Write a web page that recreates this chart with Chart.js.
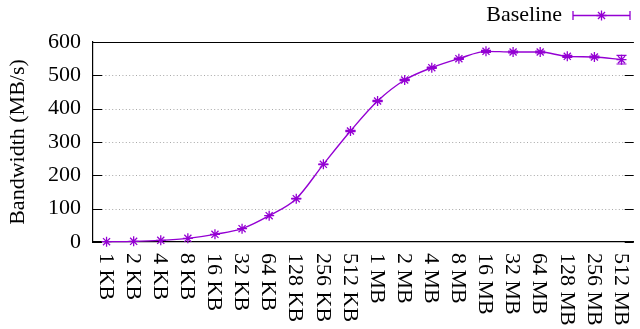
<!DOCTYPE html>
<html>
<head>
<meta charset="utf-8">
<script src="https://cdn.jsdelivr.net/npm/chart.js@4/dist/chart.umd.min.js"></script>
<style>
  html, body { margin: 0; padding: 0; background: #ffffff; }
  #wrap { width: 640px; height: 329px; }
</style>
</head>
<body>
<div id="wrap"><canvas id="c" width="640" height="329"></canvas></div>
<script>
// Transfer sizes along the x axis
const sizes = ['1 KB', '2 KB', '4 KB', '8 KB', '16 KB', '32 KB', '64 KB', '128 KB', '256 KB', '512 KB',
               '1 MB', '2 MB', '4 MB', '8 MB', '16 MB', '32 MB', '64 MB', '128 MB', '256 MB', '512 MB'];
// Measured bandwidth (MB/s) and its error half-range
const bandwidth = [1, 2, 5, 11, 23, 40, 79, 130, 233, 333,
                   423, 486, 523, 550, 572, 570, 570, 557, 555, 547];
const bandwidthErr = [0, 0, 0, 0, 0, 0, 0, 1, 1, 2,
                      2, 2, 2, 2, 3, 3, 3, 3, 3, 13];
const yTicks = [0, 100, 200, 300, 400, 500, 600];
const seriesName = 'Baseline';

const FONT_FAMILY = '"Liberation Serif", "Times New Roman", serif';
const FONT_SIZE = 22;
const VIOLET = '#9400d3';

// Dotted grid with inward tick marks and the top frame line
const gridPlugin = {
  id: 'gnuGrid',
  beforeDatasetsDraw(chart) {
    const { ctx, chartArea: a, scales: { y } } = chart;
    const tick = 9;
    ctx.save();
    yTicks.forEach(v => {
      const py = Math.round(y.getPixelForValue(v)) + 0.5;
      if (v !== yTicks[0] && v !== yTicks[yTicks.length - 1]) {
        ctx.strokeStyle = '#a8a8a8';
        ctx.lineWidth = 1;
        ctx.setLineDash([1, 2.4]);
        ctx.beginPath();
        ctx.moveTo(a.left + tick, py);
        ctx.lineTo(a.right - tick, py);
        ctx.stroke();
      }
      ctx.setLineDash([]);
      ctx.strokeStyle = '#000';
      ctx.lineWidth = 1.2;
      ctx.beginPath();
      ctx.moveTo(a.left, py);
      ctx.lineTo(a.left + tick, py);
      ctx.moveTo(a.right - tick, py);
      ctx.lineTo(a.right, py);
      ctx.stroke();
    });
    ctx.strokeStyle = '#000';
    ctx.lineWidth = 1.2;
    ctx.beginPath();
    ctx.moveTo(a.left, Math.round(a.top) + 0.5);
    ctx.lineTo(a.right, Math.round(a.top) + 0.5);
    ctx.stroke();
    ctx.restore();
  }
};

// Error bars with caps for each measurement
const errorBarPlugin = {
  id: 'errorBars',
  afterDatasetsDraw(chart) {
    const { ctx, scales: { x, y } } = chart;
    const cap = 5;
    ctx.save();
    ctx.strokeStyle = VIOLET;
    ctx.lineWidth = 1.2;
    bandwidth.forEach((v, i) => {
      const e = bandwidthErr[i];
      if (!e) return;
      const px = x.getPixelForValue(i);
      const top = y.getPixelForValue(v + e);
      const bot = y.getPixelForValue(v - e);
      ctx.beginPath();
      ctx.moveTo(px, top); ctx.lineTo(px, bot);
      ctx.moveTo(px - cap, top); ctx.lineTo(px + cap, top);
      ctx.moveTo(px - cap, bot); ctx.lineTo(px + cap, bot);
      ctx.stroke();
    });
    ctx.restore();
  }
};

// Vertical category labels reading downward, plus the key in the top right
const labelsPlugin = {
  id: 'labelsAndKey',
  afterDraw(chart) {
    const { ctx, chartArea: a, scales: { x } } = chart;
    ctx.save();
    ctx.font = FONT_SIZE + 'px ' + FONT_FAMILY;
    ctx.fillStyle = '#000';
    ctx.textAlign = 'left';
    ctx.textBaseline = 'middle';
    sizes.forEach((lab, i) => {
      const px = x.getPixelForValue(i);
      ctx.save();
      ctx.translate(px - 1, a.bottom + 11);
      ctx.rotate(Math.PI / 2);
      ctx.fillText(lab, 0, 0);
      ctx.restore();
    });

    // key
    const ky = 15.5;
    const x0 = 573, x1 = 630, xm = (x0 + x1) / 2;
    ctx.textAlign = 'right';
    ctx.fillText(seriesName, 562, ky);
    ctx.strokeStyle = VIOLET;
    ctx.lineWidth = 1.3;
    ctx.beginPath();
    ctx.moveTo(x0, ky); ctx.lineTo(x1, ky);
    ctx.moveTo(x0, ky - 4.5); ctx.lineTo(x0, ky + 4.5);
    ctx.moveTo(x1, ky - 4.5); ctx.lineTo(x1, ky + 4.5);
    ctx.stroke();
    Chart.helpers.drawPoint(ctx, { pointStyle: 'star', radius: 5, borderWidth: 1.3 }, xm, ky);
    ctx.restore();
  }
};

new Chart(document.getElementById('c'), {
  type: 'line',
  data: {
    datasets: [{
      label: seriesName,
      data: bandwidth.map((v, i) => ({ x: i, y: v })),
      borderColor: VIOLET,
      backgroundColor: VIOLET,
      borderWidth: 1.4,
      pointStyle: 'star',
      pointRadius: 5,
      pointBorderWidth: 1.3,
      pointBorderColor: VIOLET,
      cubicInterpolationMode: 'monotone',
      fill: false,
      clip: false
    }]
  },
  options: {
    responsive: false,
    animation: false,
    devicePixelRatio: 1,
    layout: { padding: { top: 42, right: 0, bottom: 0, left: 0 } },
    plugins: {
      legend: { display: false },
      tooltip: { enabled: false }
    },
    scales: {
      x: {
        type: 'linear',
        min: -0.5,
        max: 19.45,
        afterBuildTicks: s => { s.ticks = sizes.map((_, i) => ({ value: i })); },
        afterFit: s => { s.height = 87; },
        ticks: { display: false },
        grid: { display: false },
        border: { display: true, color: '#000', width: 1.2 }
      },
      y: {
        min: 0,
        max: 600,
        afterBuildTicks: s => { s.ticks = yTicks.map(v => ({ value: v })); },
        afterFit: s => { s.width = 93; },
        ticks: {
          color: '#000',
          padding: 12,
          font: { family: FONT_FAMILY, size: FONT_SIZE }
        },
        grid: { display: false, drawTicks: false },
        border: { display: true, color: '#000', width: 1.2 },
        title: {
          display: true,
          text: 'Bandwidth (MB/s)',
          color: '#000',
          font: { family: FONT_FAMILY, size: FONT_SIZE },
          padding: { top: 5, bottom: 0 }
        }
      }
    }
  },
  plugins: [gridPlugin, errorBarPlugin, labelsPlugin]
});
</script>
</body>
</html>
